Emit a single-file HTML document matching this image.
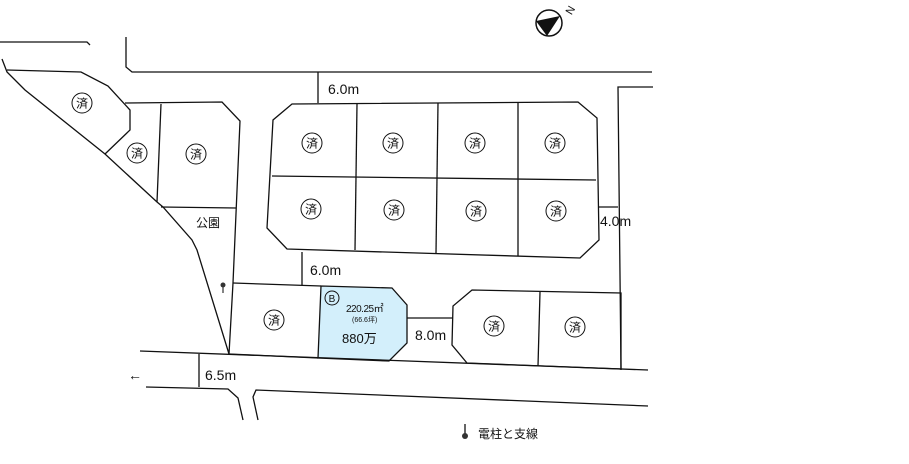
<!DOCTYPE html>
<html><head><meta charset="utf-8"><style>
body{margin:0;background:#fff}
svg{display:block}
text{font-family:"Liberation Sans","Noto Sans CJK JP",sans-serif;fill:#111}
</style></head><body>
<svg width="909" height="464" viewBox="0 0 909 464" xmlns="http://www.w3.org/2000/svg">
<defs>
<g id="z"><circle r="10" fill="#fff" stroke="#111" stroke-width="1"/><text x="0" y="4.5" font-size="12" text-anchor="middle">済</text></g>
</defs>
<g fill="none" stroke="#111" stroke-width="1.3">
<polyline points="0,42 87,42 90,45"/>
<polyline points="2,59 7,72 25,90 105,154 157,202 163,207 192,240 197,250 229,354"/>
<polyline points="126,37 126,67 132,72 652,72"/>
<line x1="318" y1="72" x2="318" y2="103"/>
<polyline points="7,70 81,72 108,86 130,110 130,130 105,154"/>
<polyline points="125,103 222,102 240,121 233,283 229,354"/>
<line x1="161" y1="104" x2="157" y2="202"/>
<line x1="161" y1="207" x2="236" y2="208"/>
<polygon points="292,104 578,102 597,118 599,240 580,258 287,249 267,228 273,120"/>
<line x1="272" y1="176" x2="596" y2="180"/>
<line x1="357" y1="104" x2="355" y2="250"/>
<line x1="438" y1="103" x2="436" y2="253"/>
<line x1="518" y1="103" x2="518" y2="256"/>
<polyline points="653,87 618,87 621,370"/>
<line x1="598" y1="207" x2="618" y2="207"/>
<line x1="302" y1="252" x2="302" y2="285"/>
<polyline points="233,283 321,286"/>
<line x1="229" y1="354" x2="318" y2="358"/>
<polygon points="321,286 392,288 407,305 407,343 389,361 318,358" fill="#d3effb"/>
<line x1="407" y1="318" x2="453" y2="318"/>
<polygon points="472,290 621,293 621,369 467,363 452,345 453,306"/>
<line x1="540" y1="292" x2="538" y2="366"/>
<line x1="140" y1="351" x2="648" y2="370"/>
<polyline points="146,387 228,389 238,398 243,420"/>
<polyline points="258,420 253,397 256,390 648,406"/>
<line x1="199" y1="354" x2="199" y2="387"/>
</g>
<line x1="223" y1="285" x2="223" y2="293" stroke="#333" stroke-width="1.2"/><circle cx="223" cy="285" r="2.5" fill="#333"/>
<circle cx="549" cy="23" r="13" fill="#fff" stroke="#111" stroke-width="1.5"/>
<polygon points="536,21 560,16 547,36" fill="#111"/>
<text x="566" y="14" font-size="11" transform="rotate(-60 570 10)">N</text>
<text x="328" y="94" font-size="14">6.0m</text>
<text x="310" y="275" font-size="14">6.0m</text>
<text x="600" y="226" font-size="14">4.0m</text>
<text x="415" y="340" font-size="14">8.0m</text>
<text x="205" y="380" font-size="14">6.5m</text>
<text x="128" y="380" font-size="14">←</text>
<text x="196" y="227" font-size="12">公園</text>
<use href="#z" x="82" y="103"/>
<use href="#z" x="137" y="153"/>
<use href="#z" x="196" y="154"/>
<use href="#z" x="312" y="143"/><use href="#z" x="393" y="143"/><use href="#z" x="475" y="143"/><use href="#z" x="555" y="143"/>
<use href="#z" x="311" y="209"/><use href="#z" x="394" y="210"/><use href="#z" x="476" y="211"/><use href="#z" x="556" y="211"/>
<use href="#z" x="274" y="320"/>
<use href="#z" x="494" y="326"/><use href="#z" x="575" y="327"/>
<circle cx="332" cy="298" r="7" fill="none" stroke="#111" stroke-width="1"/>
<text x="332" y="302" font-size="10" text-anchor="middle">B</text>
<text x="346" y="312" font-size="10" letter-spacing="-0.5">220.25㎡</text>
<text x="352" y="322" font-size="7">(66.6坪)</text>
<text x="342" y="343" font-size="13">880万</text>
<line x1="465" y1="424" x2="465" y2="435" stroke="#333" stroke-width="1.5"/><circle cx="465" cy="436" r="3" fill="#333"/>
<text x="478" y="438" font-size="12">電柱と支線</text>
</svg>
</body></html>
